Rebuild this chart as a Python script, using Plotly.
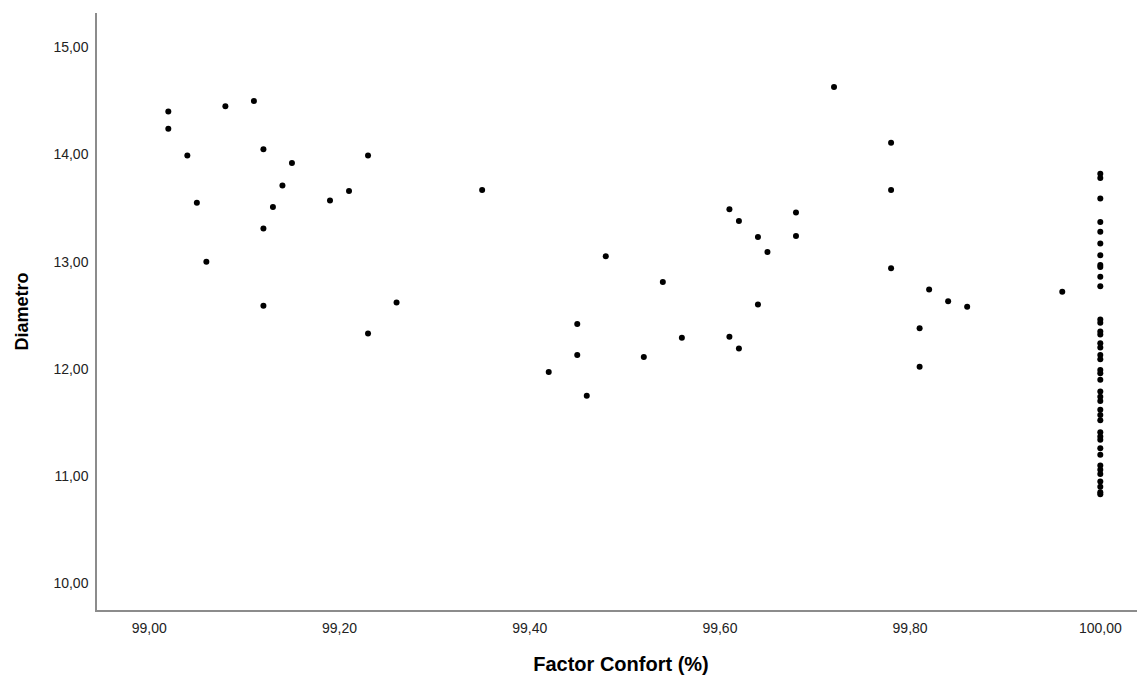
import plotly.graph_objects as go

# Factor Confort (%) and Diametro values
confort = [
    99.02, 99.02, 99.04, 99.05, 99.06, 99.08, 99.11, 99.12, 99.12, 99.12,
    99.13, 99.14, 99.15, 99.19, 99.21, 99.23, 99.23, 99.26,
    99.35, 99.42, 99.45, 99.45, 99.46, 99.48, 99.52, 99.54, 99.56,
    99.61, 99.61, 99.62, 99.62, 99.64, 99.64, 99.65, 99.68, 99.68,
    99.72, 99.78, 99.78, 99.78, 99.81, 99.81, 99.82, 99.84, 99.86, 99.96,
]
diametro = [
    14.40, 14.24, 13.99, 13.55, 13.00, 14.45, 14.50, 14.05, 13.31, 12.59,
    13.51, 13.71, 13.92, 13.57, 13.66, 13.99, 12.33, 12.62,
    13.67, 11.97, 12.42, 12.13, 11.75, 13.05, 12.11, 12.81, 12.29,
    13.49, 12.30, 13.38, 12.19, 13.23, 12.60, 13.09, 13.46, 13.24,
    14.63, 14.11, 13.67, 12.94, 12.38, 12.02, 12.74, 12.63, 12.58, 12.72,
]
# Cases with Factor Confort = 100,00
diametro_100 = [
    13.82, 13.78, 13.59, 13.37, 13.28, 13.17, 13.06, 12.97, 12.95, 12.86,
    12.77, 12.46, 12.43, 12.35, 12.32, 12.24, 12.20, 12.13, 12.09, 11.99,
    11.96, 11.90, 11.79, 11.74, 11.70, 11.62, 11.57, 11.52, 11.41, 11.37,
    11.34, 11.26, 11.20, 11.10, 11.06, 11.02, 10.95, 10.90, 10.85, 10.83,
]
confort_all = confort + [100.0] * len(diametro_100)
diametro_all = diametro + diametro_100

x_ticks = [99.0, 99.2, 99.4, 99.6, 99.8, 100.0]
x_ticklabels = ["99,00", "99,20", "99,40", "99,60", "99,80", "100,00"]
y_ticks = [10, 11, 12, 13, 14, 15]
y_ticklabels = ["10,00", "11,00", "12,00", "13,00", "14,00", "15,00"]

FONT = "Liberation Sans, Arial, sans-serif"

fig = go.Figure(
    go.Scatter(
        x=confort_all,
        y=diametro_all,
        mode="markers",
        marker=dict(color="black", size=6, line=dict(width=0)),
        showlegend=False,
    )
)

fig.update_layout(
    width=1137,
    height=673,
    margin=dict(l=89, r=0, t=5, b=71),
    paper_bgcolor="white",
    plot_bgcolor="white",
    font=dict(family=FONT, color="#222222", size=14),
    xaxis=dict(
        range=[98.945, 100.047],
        tickvals=x_ticks,
        ticktext=x_ticklabels,
        showgrid=False,
        zeroline=False,
        showline=True,
        linecolor="#8c8c8c",
        linewidth=1.5,
        ticks="",
        ticklabelstandoff=4,
        tickfont=dict(size=14, family=FONT, color="#222222"),
        title=dict(text="<b>Factor Confort (%)</b>", font=dict(size=20, family=FONT, color="black"), standoff=22),
    ),
    yaxis=dict(
        range=[9.751, 15.32],
        tickvals=y_ticks,
        ticktext=y_ticklabels,
        showgrid=False,
        zeroline=False,
        showline=True,
        linecolor="#8c8c8c",
        linewidth=1.5,
        ticks="",
        ticklabelstandoff=4,
        tickfont=dict(size=14, family=FONT, color="#222222"),
        title=dict(text="<b>Diametro</b>", font=dict(size=18, family=FONT, color="black"), standoff=20),
    ),
)

fig.write_html("out.html")
